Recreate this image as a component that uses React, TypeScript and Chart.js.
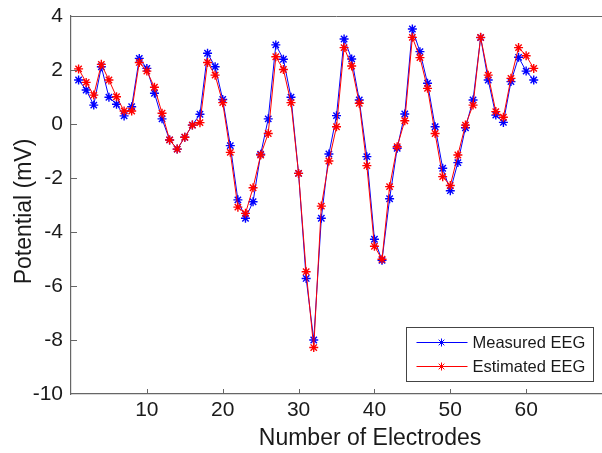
import React, { useEffect, useRef } from 'react';
import { Chart, registerables } from 'chart.js';
Chart.register(...registerables);

const electrodes = [
  1, 2, 3, 4, 5, 6, 7, 8, 9, 10, 11, 12, 13, 14, 15, 16, 17, 18, 19, 20,
  21, 22, 23, 24, 25, 26, 27, 28, 29, 30, 31, 32, 33, 34, 35, 36, 37, 38, 39, 40,
  41, 42, 43, 44, 45, 46, 47, 48, 49, 50, 51, 52, 53, 54, 55, 56, 57, 58, 59, 60, 61,
];

const measuredEEG = [
  1.63, 1.26, 0.70, 2.12, 0.99, 0.73, 0.30, 0.64, 2.43, 2.06,
  1.14, 0.19, -0.59, -0.93, -0.49, -0.04, 0.36, 2.62, 2.12, 0.91,
  -0.80, -2.81, -3.49, -2.88, -1.12, 0.19, 2.93, 2.40, 0.99, -1.83,
  -5.72, -8.00, -3.49, -1.11, 0.31, 3.15, 2.41, 0.89, -1.21, -4.27,
  -5.05, -2.77, -0.90, 0.37, 3.52, 2.68, 1.51, -0.10, -1.64, -2.47,
  -1.43, -0.14, 0.89, 3.20, 1.63, 0.33, 0.06, 1.57, 2.47, 1.96, 1.63,
];

const estimatedEEG = [
  2.04, 1.54, 1.07, 2.21, 1.63, 1.01, 0.48, 0.48, 2.28, 1.96,
  1.36, 0.40, -0.59, -0.93, -0.49, -0.04, 0.05, 2.28, 1.81, 0.79,
  -1.05, -3.08, -3.31, -2.36, -1.15, -0.35, 2.49, 2.02, 0.79, -1.83,
  -5.47, -8.28, -3.04, -1.37, -0.10, 2.83, 2.15, 0.77, -1.54, -4.53,
  -5.01, -2.32, -0.84, 0.12, 3.21, 2.46, 1.32, -0.35, -1.95, -2.28,
  -1.15, -0.04, 0.70, 3.21, 1.81, 0.46, 0.25, 1.69, 2.83, 2.53, 2.06,
];

const seriesNames = ['Measured EEG', 'Estimated EEG'];
const seriesColors = ['rgb(0,0,255)', 'rgb(255,0,0)'];
const xTitle = 'Number of Electrodes';
const yTitle = 'Potential (mV)';

const X_MIN = 0;
const X_MAX = 70;
const Y_MIN = -10;
const Y_MAX = 4;

const FONT = '"Liberation Sans", Arial, Helvetica, sans-serif';
const TEXT = '#1a1a1a';
const AXIS = '#666666';

function drawStar(ctx: CanvasRenderingContext2D, x: number, y: number, r: number) {
  for (let k = 0; k < 4; k++) {
    const a = (k * Math.PI) / 4;
    ctx.moveTo(x - Math.cos(a) * r, y - Math.sin(a) * r);
    ctx.lineTo(x + Math.cos(a) * r, y + Math.sin(a) * r);
  }
}

const decorPlugin = {
  id: 'decor',
  afterDraw(chart: any) {
    const { ctx, chartArea } = chart;
    const x = chart.scales.x;
    const y = chart.scales.y;
    ctx.save();
    ctx.strokeStyle = AXIS;
    ctx.lineWidth = 1;
    ctx.beginPath();
    // top border
    ctx.moveTo(chartArea.left, Math.round(chartArea.top) + 0.5);
    ctx.lineTo(chartArea.right, Math.round(chartArea.top) + 0.5);
    // inward ticks
    x.ticks.forEach((t: any) => {
      if (t.value <= X_MIN || t.value >= X_MAX) return;
      const px = Math.round(x.getPixelForValue(t.value)) + 0.5;
      ctx.moveTo(px, chartArea.bottom);
      ctx.lineTo(px, chartArea.bottom - 5);
    });
    y.ticks.forEach((t: any) => {
      if (t.value <= Y_MIN || t.value >= Y_MAX) return;
      const py = Math.round(y.getPixelForValue(t.value)) + 0.5;
      ctx.moveTo(chartArea.left, py);
      ctx.lineTo(chartArea.left + 6, py);
    });
    ctx.stroke();

    // axis titles (the original axes extend past the cropped right edge)
    ctx.fillStyle = TEXT;
    ctx.font = `23px ${FONT}`;
    ctx.textAlign = 'center';
    ctx.textBaseline = 'middle';
    ctx.fillText(xTitle, chartArea.left + 299, chartArea.bottom + 45);
    ctx.save();
    ctx.translate(25, (chartArea.top + chartArea.bottom) / 2 + 6.5);
    ctx.rotate(-Math.PI / 2);
    ctx.fillText(yTitle, 0, 0);
    ctx.restore();

    // legend box
    const bw = 187;
    const bh = 54;
    const bx = Math.round(chartArea.right - 9 - bw) + 0.5;
    const by = Math.round(chartArea.bottom - 13 - bh) + 0.5;
    ctx.fillStyle = '#ffffff';
    ctx.fillRect(bx, by, bw, bh);
    ctx.strokeStyle = '#444444';
    ctx.lineWidth = 1;
    ctx.strokeRect(bx, by, bw, bh);
    seriesNames.forEach((name, i) => {
      const ly = by + 15 + i * 24;
      ctx.strokeStyle = seriesColors[i];
      ctx.lineWidth = 1;
      ctx.beginPath();
      ctx.moveTo(bx + 10, ly);
      ctx.lineTo(bx + 61, ly);
      drawStar(ctx, bx + 35, ly, 4);
      ctx.stroke();
      ctx.fillStyle = TEXT;
      ctx.font = `16.5px ${FONT}`;
      ctx.textAlign = 'left';
      ctx.textBaseline = 'middle';
      ctx.fillText(name, bx + 66, ly + 1);
    });
    ctx.restore();
  },
};

export default function App() {
  const canvasRef = useRef<HTMLCanvasElement | null>(null);

  useEffect(() => {
    const canvas = canvasRef.current;
    if (!canvas) return;
    const chart = new Chart(canvas, {
      type: 'line',
      data: {
        datasets: [
          {
            label: seriesNames[0],
            data: electrodes.map((e, i) => ({ x: e, y: measuredEEG[i] })),
            borderColor: seriesColors[0],
            backgroundColor: seriesColors[0],
            pointBorderColor: seriesColors[0],
            borderWidth: 1,
            pointStyle: 'star',
            pointRadius: 4.5,
            pointBorderWidth: 1.4,
            tension: 0,
            order: 1,
          },
          {
            label: seriesNames[1],
            data: electrodes.map((e, i) => ({ x: e, y: estimatedEEG[i] })),
            borderColor: seriesColors[1],
            backgroundColor: seriesColors[1],
            pointBorderColor: seriesColors[1],
            borderWidth: 1,
            pointStyle: 'star',
            pointRadius: 4.5,
            pointBorderWidth: 1.4,
            tension: 0,
            order: 0,
          },
        ],
      },
      options: {
        responsive: false,
        animation: false,
        devicePixelRatio: 1,
        layout: { autoPadding: false, padding: { top: 16, right: 0, left: 0, bottom: 0 } },
        plugins: {
          legend: { display: false },
          tooltip: { enabled: false },
        },
        scales: {
          x: {
            type: 'linear',
            min: X_MIN,
            max: X_MAX,
            afterFit: (s: any) => {
              s.height = 59;
              s.paddingLeft = 0;
              s.paddingRight = 0;
            },
            grid: { drawOnChartArea: false, drawTicks: false },
            border: { display: true, color: AXIS, width: 1.2 },
            ticks: {
              stepSize: 10,
              padding: 4,
              color: TEXT,
              font: { family: FONT, size: 21 },
              maxRotation: 0,
              callback: (v: any) => (v === X_MIN || v === X_MAX ? '' : String(v)),
            },
            title: { display: false },
          },
          y: {
            type: 'linear',
            min: Y_MIN,
            max: Y_MAX,
            afterFit: (s: any) => {
              s.width = 71;
              s.paddingTop = 0;
              s.paddingBottom = 0;
            },
            grid: { drawOnChartArea: false, drawTicks: false },
            border: { display: true, color: AXIS, width: 1.2 },
            ticks: {
              stepSize: 2,
              padding: 8,
              color: TEXT,
              font: { family: FONT, size: 21 },
            },
            title: { display: false },
          },
        },
      },
      plugins: [decorPlugin],
    } as any);
    return () => chart.destroy();
  }, []);

  return (
    <div style={{ position: 'absolute', left: 0, top: 0, width: 602, height: 453, background: '#ffffff' }}>
      <canvas ref={canvasRef} width={602} height={453} />
    </div>
  );
}
